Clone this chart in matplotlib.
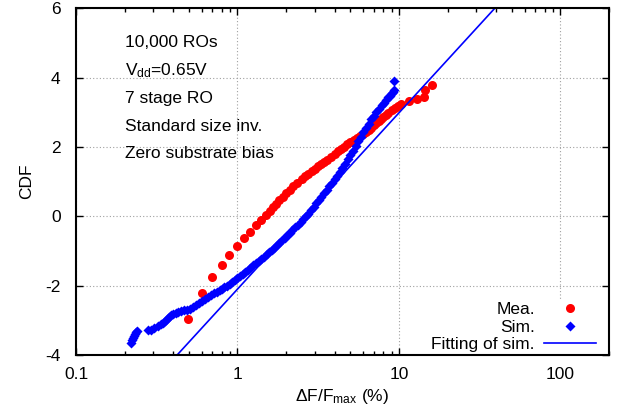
import numpy as np
import matplotlib
matplotlib.use("Agg")
import matplotlib.pyplot as plt
from matplotlib.ticker import LogLocator, FixedLocator, NullFormatter

plt.rcParams['font.family'] = ['Liberation Sans', 'DejaVu Sans']
plt.rcParams['mathtext.fontset'] = 'custom'
plt.rcParams['mathtext.rm'] = 'Liberation Sans'
plt.rcParams['mathtext.it'] = 'Liberation Sans'

# medidas (Mea.)
mea_x = [0.495, 0.60, 0.70, 0.80, 0.89, 0.99, 1.10, 1.20, 1.31, 1.40, 1.50, 1.58,
         1.65, 1.73, 1.82, 1.91, 2.00, 2.10, 2.22, 2.35, 2.50, 2.62, 2.75, 2.88,
         3.00, 3.15, 3.30, 3.45, 3.60, 3.80, 4.00, 4.20, 4.40, 4.60, 4.80, 5.00,
         5.25, 5.50, 5.75, 6.00, 6.25, 6.50, 6.75, 7.00, 7.25, 7.50, 7.75, 8.00,
         8.30, 8.60, 9.00, 9.40, 9.80, 10.3, 11.5, 12.9, 14.2, 14.4, 16.1]
mea_y = [-2.97, -2.22, -1.76, -1.40, -1.11, -0.86, -0.62, -0.44, -0.26, -0.12, 0.04, 0.15,
         0.26, 0.36, 0.46, 0.56, 0.66, 0.76, 0.88, 0.97, 1.07, 1.15, 1.22, 1.30,
         1.37, 1.44, 1.50, 1.56, 1.63, 1.72, 1.81, 1.88, 1.95, 2.01, 2.08, 2.14,
         2.20, 2.27, 2.32, 2.38, 2.44, 2.50, 2.56, 2.62, 2.68, 2.74, 2.80, 2.86,
         2.93, 2.99, 3.06, 3.12, 3.18, 3.25, 3.32, 3.37, 3.44, 3.63, 3.78]

# simulacao (Sim.)
sim_x = [0.220, 0.223, 0.226, 0.230, 0.233, 0.236, 0.240, 0.278, 0.290, 0.306, 0.320, 0.334,
         0.345, 0.355, 0.365, 0.375, 0.387, 0.400, 0.415, 0.431, 0.450, 0.469, 0.490, 0.509,
         0.530, 0.555, 0.580, 0.603, 0.630, 0.656, 0.685, 0.714, 0.745, 0.775, 0.800, 0.830,
         0.860, 0.894, 0.930, 0.965, 1.00, 1.04, 1.08, 1.12, 1.16, 1.20, 1.25, 1.30,
         1.35, 1.40, 1.46, 1.52, 1.57, 1.63, 1.69, 1.75, 1.82, 1.89, 1.96, 2.04,
         2.11, 2.19, 2.28, 2.37, 2.46, 2.55, 2.65, 2.75, 2.85, 2.96, 3.07, 3.19,
         3.31, 3.44, 3.57, 3.71, 3.85, 4.00, 4.15, 4.31, 4.47, 4.64, 4.82, 5.00,
         5.19, 5.39, 5.60, 5.81, 6.03, 6.26, 6.50, 6.75, 7.00, 7.25, 7.55, 7.85,
         8.10, 8.35, 8.60, 8.80, 9.00, 9.15, 9.29, 9.35]
sim_y = [-3.64, -3.58, -3.52, -3.46, -3.40, -3.34, -3.30, -3.28, -3.27, -3.22, -3.17, -3.12,
         -3.07, -3.02, -2.96, -2.90, -2.86, -2.83, -2.79, -2.76, -2.73, -2.71, -2.69, -2.66,
         -2.62, -2.57, -2.51, -2.44, -2.39, -2.34, -2.28, -2.22, -2.17, -2.12, -2.09, -2.04,
         -2.00, -1.95, -1.89, -1.84, -1.79, -1.73, -1.67, -1.61, -1.54, -1.48, -1.41, -1.35,
         -1.29, -1.22, -1.16, -1.09, -1.03, -0.97, -0.90, -0.84, -0.76, -0.69, -0.62, -0.55,
         -0.47, -0.40, -0.32, -0.24, -0.16, -0.08, 0.00, 0.08, 0.17, 0.27, 0.37, 0.47,
         0.57, 0.67, 0.77, 0.87, 0.97, 1.07, 1.17, 1.28, 1.40, 1.52, 1.65, 1.77,
         1.89, 2.02, 2.16, 2.29, 2.42, 2.55, 2.67, 2.80, 2.90, 3.00, 3.10, 3.20,
         3.28, 3.35, 3.43, 3.48, 3.56, 3.60, 3.64, 3.89]

# reta do ajuste (Fitting of sim.)
fit_x = [0.423, 39.2]
fit_y = [-4, 6]

notas = ["10,000 ROs", "V$_{dd}$=0.65V", "7 stage RO", "Standard size inv.", "Zero substrate bias"]
notas_y = [5.0, 4.2, 3.4, 2.6, 1.8]

fs = 12.5

fig = plt.figure(figsize=(6.2, 4.11), dpi=100)
ax = fig.add_axes([0.1226, 0.1363, 0.8597, 0.8435])

ax.plot(mea_x, mea_y, "o", color="#ff0000", ms=6.5, mec="none", label="Mea.")
ax.plot(sim_x, sim_y, "D", color="#0000ff", ms=5.0, mec="none", label="Sim.")
ax.plot(fit_x, fit_y, "-", color="#0000ff", lw=1.2, label="Fitting of sim.")

ax.set_xscale("log")
ax.set_xlim(0.1, 200)
ax.set_ylim(-4, 6)
ax.xaxis.set_major_locator(FixedLocator([0.1, 1, 10, 100]))
ax.set_xticklabels(["0.1", "1", "10", "100"])
ax.xaxis.set_minor_locator(LogLocator(base=10, subs=np.arange(2, 10)))
ax.xaxis.set_minor_formatter(NullFormatter())
ax.set_yticks([-4, -2, 0, 2, 4, 6])
ax.set_yticklabels(["-4", "-2", "0", "2", "4", "6"])

ax.tick_params(which="both", direction="in", top=True, right=True, labelsize=fs, width=1)
ax.tick_params(which="major", length=5)
ax.tick_params(which="minor", length=3)
ax.tick_params(axis="x", which="major", pad=9)
ax.tick_params(axis="y", which="major", pad=11)
for s in ax.spines.values():
    s.set_linewidth(1.5)

ax.grid(True, which="major", color="#a0a0a0", linestyle=(0, (1, 2)), linewidth=0.8)
ax.set_axisbelow(True)

trans = ax.get_yaxis_transform()
for t, yy in zip(notas, notas_y):
    ax.text(0.092, yy, t, transform=trans, fontsize=fs, va="center", ha="left")

ax.set_xlabel("ΔF/F$_{max}$ (%)", fontsize=fs, labelpad=3)
ax.set_ylabel("CDF", fontsize=fs, labelpad=8)

leg = ax.legend(loc="lower right", bbox_to_anchor=(0.98, 0.0), markerfirst=False,
                fontsize=fs, frameon=True, framealpha=1, edgecolor="none",
                facecolor="white", fancybox=False, handlelength=3.0,
                handletextpad=0.5, labelspacing=0.15, borderaxespad=0.0,
                borderpad=0.15)
leg.set_zorder(2.2)

plt.savefig("out.png", dpi=100)
